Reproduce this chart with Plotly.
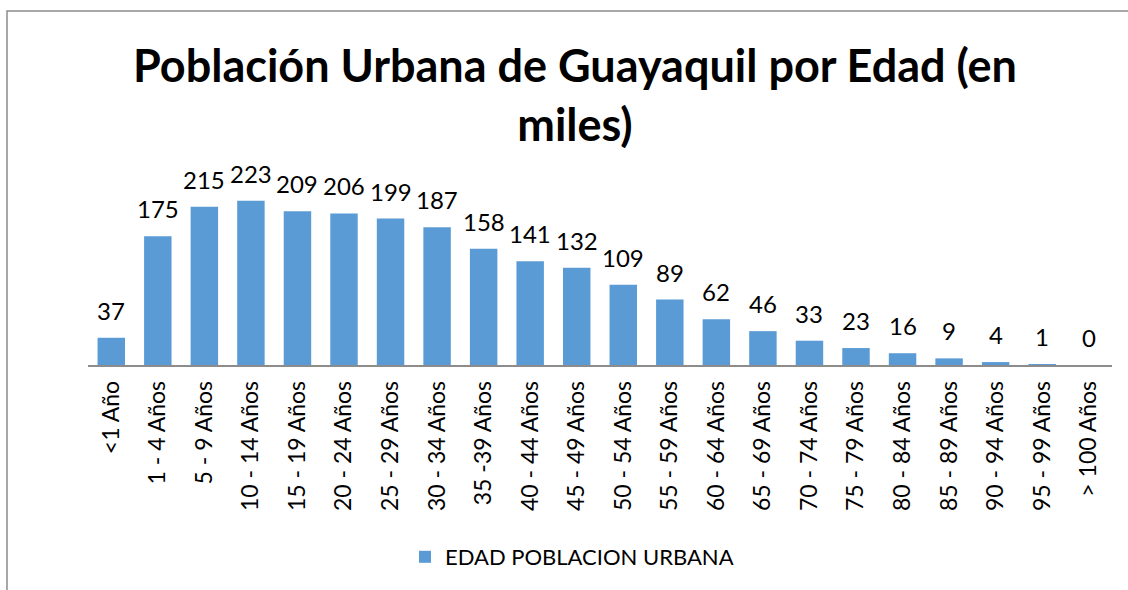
import plotly.graph_objects as go

categories = ["<1 Año", "1 - 4 Años", "5 - 9 Años", "10 - 14 Años", "15 - 19 Años",
              "20 - 24 Años", "25 - 29 Años", "30 - 34 Años", "35 -39 Años", "40 - 44 Años",
              "45 - 49 Años", "50 - 54 Años", "55 - 59 Años", "60 - 64 Años", "65 - 69 Años",
              "70 - 74 Años", "75 - 79 Años", "80 - 84 Años", "85 - 89 Años", "90 - 94 Años",
              "95 - 99 Años", "> 100 Años"]
values = [37, 175, 215, 223, 209, 206, 199, 187, 158, 141, 132, 109, 89, 62, 46, 33, 23, 16, 9, 4, 1, 0]
series_name = "EDAD POBLACION URBANA"
title_text = "Población Urbana de Guayaquil por Edad (en<br>miles)"

FONT = "Lato, 'Liberation Sans', Arial, sans-serif"
W, H = 1128, 590
L, R, T, B = 88, 16, 181, 225

fig = go.Figure()
fig.add_trace(go.Bar(
    x=categories, y=values, name=series_name,
    marker=dict(color="#5b9bd5", line=dict(width=0)),
    cliponaxis=False, showlegend=True,
))

for c, v in zip(categories, values):
    fig.add_annotation(x=c, y=v, text=str(v), showarrow=False,
                       yanchor="bottom", yshift=11,
                       font=dict(family=FONT, size=24, color="#000000"))

pw = W - L - R
ph = H - T - B
fig.add_shape(type="rect", xref="paper", yref="paper",
              x0=(7 - L) / pw, x1=(W + 5 - L) / pw,
              y0=-(B + 10) / ph, y1=(H - 11 - B) / ph,
              line=dict(color="#8c8c8c", width=1.5), fillcolor="rgba(0,0,0,0)", layer="below")

fig.update_layout(
    width=W, height=H,
    margin=dict(l=L, r=R, t=T, b=B, autoexpand=False),
    paper_bgcolor="white", plot_bgcolor="white",
    bargap=0.41,
    title=dict(text=title_text, x=575 / W, xanchor="center", xref="container",
               y=1 - 82 / H, yanchor="top", yref="container",
               font=dict(family=FONT, size=45, color="#000000", weight="bold")),
    font=dict(family=FONT, color="#000000"),
    xaxis=dict(tickangle=-90, tickfont=dict(family=FONT, size=23, color="#000000"),
               showline=True, linecolor="#8c8c8c", linewidth=1.5, showgrid=False,
               ticks="", ticklabelstandoff=5, fixedrange=True),
    yaxis=dict(range=[0, 250], visible=False, showgrid=False, zeroline=False),
    legend=dict(orientation="h", x=572 / W, xanchor="center", xref="container",
                y=1 - 557 / H, yanchor="middle", yref="container",
                font=dict(family=FONT, size=22, color="#000000"),
                itemwidth=30, bgcolor="rgba(0,0,0,0)"),
)

fig.write_html("out.html", config={"displayModeBar": False},
               post_script="document.body.style.margin='0';document.body.style.overflow='hidden';")
